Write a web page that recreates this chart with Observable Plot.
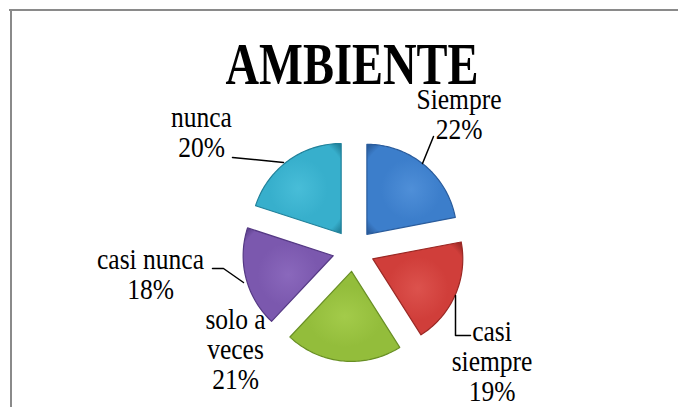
<!DOCTYPE html>
<html>
<head>
<meta charset="utf-8">
<script src="https://cdn.jsdelivr.net/npm/d3@7"></script>
<script src="https://cdn.jsdelivr.net/npm/@observablehq/plot@0.6"></script>
<style>
  html, body { margin: 0; padding: 0; background: #fff; }
  #chart svg { display: block; }
</style>
</head>
<body>
<div id="chart"></div>
<script>
// ---- data ----
const title = "AMBIENTE";
const categories = ["Siempre", "casi siempre", "solo a veces", "casi nunca", "nunca"];
const labelText = ["Siempre", "casi\nsiempre", "solo a\nveces", "casi nunca", "nunca"];
const values = [22, 19, 21, 18, 20];
const pctLabels = ["22%", "19%", "21%", "18%", "20%"];

// ---- style / layout ----
const W = 678, H = 407;
const CX = 353, CY = 250, R = 90, EXPLODE = 21;
const colors = [
  {light: "#4f8fd8", main: "#3c7ecb", dark: "#2a5c9c"},
  {light: "#dc524d", main: "#d03e3a", dark: "#9a2824"},
  {light: "#a3cb4a", main: "#93bd3b", dark: "#688f24"},
  {light: "#8a68bc", main: "#7b58ae", dark: "#553984"},
  {light: "#48bdd8", main: "#37afcc", dark: "#21819a"}
];
const labelAnchor = [[458.5, 114], [491.5, 361], [235, 349], [150, 274], [201, 132]];
const leaderPaths = [
  [[422, 163], [433, 136]],
  [[455, 295], [455, 335], [470, 335]],
  [],
  [[243, 282], [223, 268], [212, 268]],
  [[283, 162], [232, 157]]
];
const titlePos = [351.5, 63.8];
const LABEL_FS = 29, TITLE_FS = 60;

// ---- geometry from data ----
const arcs = d3.pie().sort(null).value(d => d)(values);
const slicePts = [];
arcs.forEach((a, i) => {
  const mid = (a.startAngle + a.endAngle) / 2;
  const ox = CX + EXPLODE * Math.sin(mid), oy = CY - EXPLODE * Math.cos(mid);
  const fill = `url(#grad${i})`, stroke = colors[i].dark;
  slicePts.push({cat: categories[i], x: ox, y: oy, fill, stroke});
  const N = 60;
  for (let k = 0; k <= N; ++k) {
    const t = a.startAngle + (a.endAngle - a.startAngle) * k / N;
    slicePts.push({cat: categories[i], x: ox + R * Math.sin(t), y: oy - R * Math.cos(t), fill, stroke});
  }
  slicePts.push({cat: categories[i], x: ox, y: oy, fill, stroke});
});

const labels = categories.map((c, i) => ({
  cat: c, text: labelText[i] + "\n" + pctLabels[i], x: labelAnchor[i][0], y: labelAnchor[i][1]
}));
const leaders = leaderPaths.flatMap((p, i) => p.map(([x, y]) => ({cat: categories[i], x, y})));

const plot = Plot.plot({
  width: W, height: H,
  margin: 0,
  x: {domain: [0, W], axis: null},
  y: {domain: [H, 0], axis: null},
  style: {background: "#fff", overflow: "visible"},
  marks: [
    Plot.ruleY([9.5], {x1: 9, x2: W, stroke: "#8a8a8a", strokeWidth: 2}),
    Plot.ruleX([10.5], {y1: 9, y2: H, stroke: "#8a8a8a", strokeWidth: 2}),
    Plot.line(slicePts, {x: "x", y: "y", z: "cat", fill: "fill", stroke: "stroke", strokeWidth: 1.2, curve: "linear", strokeLinejoin: "round"}),
    Plot.line(leaders, {x: "x", y: "y", z: "cat", stroke: "#000", strokeWidth: 1.5}),
    Plot.text(labels, {x: "x", y: "y", text: "text", fontSize: LABEL_FS, fontFamily: "Liberation Serif", lineHeight: 30 / LABEL_FS, lineAnchor: "middle", textAnchor: "middle", fill: "#000"}),
    Plot.text([title], {x: () => titlePos[0], y: () => titlePos[1], text: d => d, fontSize: TITLE_FS, fontWeight: "bold", fontFamily: "Liberation Serif", lineAnchor: "middle", textAnchor: "middle", fill: "#000"})
  ]
});

// gradient definitions for the bevelled slices
const ns = "http://www.w3.org/2000/svg";
const defs = document.createElementNS(ns, "defs");
colors.forEach((c, i) => {
  const g = document.createElementNS(ns, "radialGradient");
  g.setAttribute("id", `grad${i}`);
  g.setAttribute("cx", "0.5"); g.setAttribute("cy", "0.5"); g.setAttribute("r", "0.68");
  [[0, c.light], [0.5, c.main], [0.86, c.main], [1, c.dark]].forEach(([o, col]) => {
    const s = document.createElementNS(ns, "stop");
    s.setAttribute("offset", o); s.setAttribute("stop-color", col);
    g.appendChild(s);
  });
  defs.appendChild(g);
});
plot.insertBefore(defs, plot.firstChild);

// condensed serif text, as in the reference
plot.querySelectorAll("text").forEach(t => {
  const holder = t.closest("[font-size]");
  const fs = holder ? parseFloat(holder.getAttribute("font-size")) : LABEL_FS;
  const sx = fs >= 50 ? 0.775 : 0.88;
  let tr = t.getAttribute("transform");
  if (!tr) {
    const x = +t.getAttribute("x") || 0, y = +t.getAttribute("y") || 0;
    t.removeAttribute("x"); t.removeAttribute("y");
    tr = `translate(${x},${y})`;
  }
  t.setAttribute("transform", tr + ` scale(${sx},1)`);
});

document.getElementById("chart").appendChild(plot);
</script>
</body>
</html>
